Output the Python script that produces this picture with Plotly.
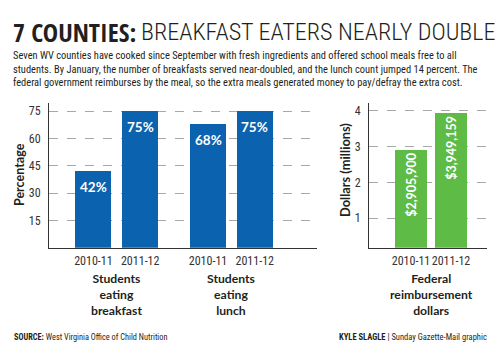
import plotly.graph_objects as go

# ---- data ----
years = ["2010-11", "2011-12"]
groups = ["Students<br>eating<br>breakfast", "Students<br>eating<br>lunch"]
fed_group = "Federal<br>reimbursement<br>dollars"
pct_breakfast = [42, 75]
pct_lunch = [68, 75]
fed_dollars = [2905900, 3949159]
fed_labels = ["$2,905,900", "$3,949,159"]
pct_ticks = [15, 30, 45, 60, 75]
dollar_ticks = [1, 2, 3, 4]

BLUE = "#0B63B0"
GREEN = "#5DBB46"
COND = "Roboto Condensed, sans-serif"
HEAVY = "Open Sans Condensed, Roboto Condensed, sans-serif"
LAB = "Lato, sans-serif"
INK = "#231f20"

W, H = 500, 352
def px(x): return x / W
def py(y): return 1 - y / H

GROUP_STEP = 2.45
fig = go.Figure()

pct_series = [pct_breakfast, pct_lunch]
xs, ys, txt = [], [], []
for gi, vals in enumerate(pct_series):
    for yi, v in enumerate(vals):
        xs.append(gi * GROUP_STEP + yi)
        ys.append(v)
        txt.append(f"{v}%")
fig.add_trace(go.Bar(x=xs, y=ys, width=0.77, marker=dict(color=BLUE, line=dict(width=0)),
                     xaxis="x", yaxis="y", showlegend=False, hoverinfo="skip"))

fed_m = [d / 1e6 for d in fed_dollars]
fig.add_trace(go.Bar(x=[0, 1], y=fed_m, width=0.8, marker=dict(color=GREEN, line=dict(width=0)),
                     text=fed_labels, textposition="inside", insidetextanchor="end",
                     textangle=-90,
                     textfont=dict(family=LAB, size=12.5, color="white", weight=700),
                     xaxis="x2", yaxis="y2", showlegend=False, hoverinfo="skip"))

tickfont = dict(family=COND, size=12, color="#333333")
grid = dict(showgrid=True, gridcolor="#a8a8a8", griddash="dash", gridwidth=1)

x1_tv = [gi * GROUP_STEP + yi for gi in range(len(groups)) for yi in range(len(years))]
x1_tt = years * len(groups)

fig.update_layout(
    width=W, height=H, margin=dict(l=0, r=0, t=0, b=0),
    plot_bgcolor="white", paper_bgcolor="white", bargap=0,
    xaxis=dict(domain=[px(49), px(317)], range=[-0.95, 4.78], tickvals=x1_tv, ticktext=x1_tt,
               tickangle=0, showline=True, linecolor="#333333", linewidth=1, ticks="", showgrid=False,
               tickfont=tickfont, ticklabelstandoff=2, anchor="y", zeroline=False),
    yaxis=dict(domain=[py(247.7), py(103)], range=[0, 79.4], tickvals=pct_ticks,
               showline=True, linecolor="#333333", linewidth=1, ticks="", zeroline=False,
               tickfont=tickfont, ticklabelstandoff=5, anchor="x", **grid),
    xaxis2=dict(domain=[px(369), px(487)], range=[-1.05, 1.9], tickvals=[0, 1], ticktext=years,
                tickangle=0, showline=True, linecolor="#333333", linewidth=1, ticks="", showgrid=False,
                tickfont=tickfont, ticklabelstandoff=2, anchor="y2", zeroline=False),
    yaxis2=dict(domain=[py(247.7), py(103)], range=[0.17, 4.22], tickvals=dollar_ticks,
                showline=True, linecolor="#333333", linewidth=1, ticks="", zeroline=False,
                tickfont=tickfont, ticklabelstandoff=5, anchor="x2", **grid),
)

ann = []
for x, y, t in zip(xs, ys, txt):
    ann.append(dict(x=x, y=y, xref="x", yref="y", xanchor="center", yanchor="top", yshift=-6, showarrow=False,
                    text=t, font=dict(family=LAB, size=13.5, color="white", weight=700)))
ann.append(dict(x=px(11), y=py(32.5), xref="paper", yref="paper", xanchor="left", yanchor="middle",
                text="7 COUNTIES:", showarrow=False,
                font=dict(family=HEAVY, size=25.8, color=INK, weight=700)))
ann.append(dict(x=px(138.5), y=py(32.5), xref="paper", yref="paper", xanchor="left", yanchor="middle",
                text="BREAKFAST EATERS NEARLY DOUBLE", showarrow=False,
                font=dict(family=COND, size=24.1, color=INK, weight=300)))
ann.append(dict(x=px(11), y=py(69), xref="paper", yref="paper", xanchor="left", yanchor="middle",
                align="left", showarrow=False,
                text=("Seven WV counties have cooked since September with fresh ingredients and offered school meals free to all<br>"
                      "students. By January, the number of breakfasts served near-doubled, and the lunch count jumped 14 percent. The<br>"
                      "federal government reimburses by the meal, so the extra meals generated money to pay/defray the extra cost."),
                font=dict(family=COND, size=10.45, color=INK)))
ann.append(dict(x=px(20), y=py(175), xref="paper", yref="paper", xanchor="center", yanchor="middle",
                textangle=-90, showarrow=False,
                text="Percentage", font=dict(family=LAB, size=12.5, color=INK, weight=700)))
ann.append(dict(x=px(345), y=py(170), xref="paper", yref="paper", xanchor="center", yanchor="middle",
                textangle=-90, showarrow=False,
                text="Dollars (millions)", font=dict(family=LAB, size=12.8, color=INK, weight=700)))

def group_label(text, x, xref):
    ann.append(dict(x=x, y=py(294), xref=xref, yref="paper", xanchor="center", yanchor="middle",
                    align="center", showarrow=False, text=text,
                    font=dict(family=LAB, size=12.2, color=INK, weight=700)))
for gi, g in enumerate(groups):
    group_label(g, gi * GROUP_STEP + 0.5, "x")
group_label(fed_group, 0.5, "x2")

ann.append(dict(x=px(12), y=py(337), xref="paper", yref="paper", xanchor="left", yanchor="middle", showarrow=False,
                text="<b>SOURCE:</b> West Virginia Office of Child Nutrition",
                font=dict(family=COND, size=8.3, color=INK)))
ann.append(dict(x=px(489), y=py(337), xref="paper", yref="paper", xanchor="right", yanchor="middle", showarrow=False,
                text="<b>KYLE SLAGLE</b> | Sunday Gazette-Mail graphic",
                font=dict(family=COND, size=8.5, color=INK)))
fig.update_layout(annotations=ann)

fig.write_html("out.html")
